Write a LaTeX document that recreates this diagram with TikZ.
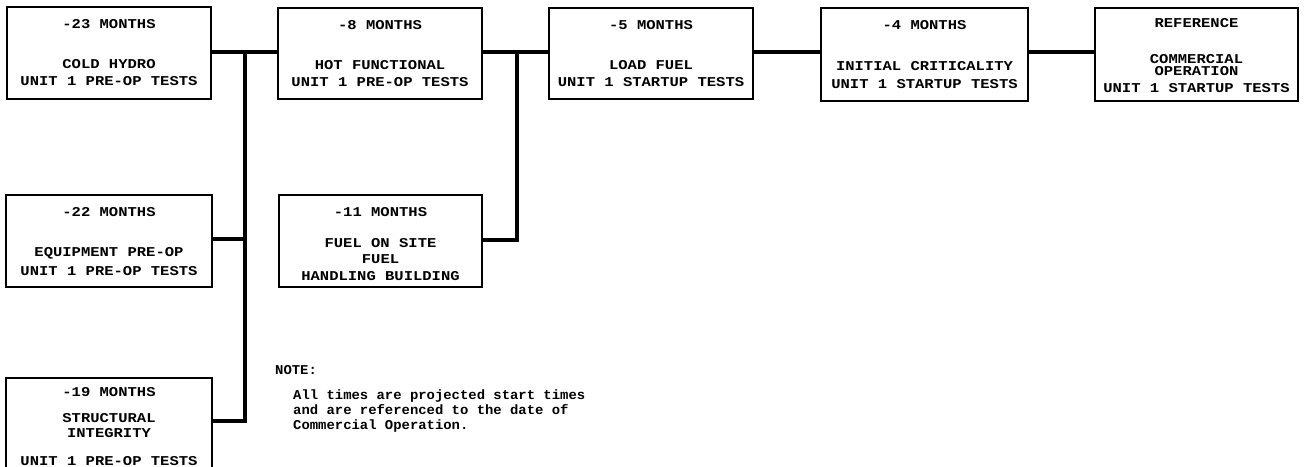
\documentclass[tikz,border=0pt]{standalone}
\usepackage{fontspec}
\newfontfamily\boxfont{Liberation Mono}[FakeStretch=1.15]
\newfontfamily\notefont{Liberation Mono}[FakeStretch=1.03]
\begin{document}
\begin{tikzpicture}[x=1pt,y=-1pt,
  stage/.style={draw, line width=2.6pt, rectangle, inner sep=0pt, align=center,
    font=\boxfont\bfseries\fontsize{13.5}{15}\selectfont},
  conn/.style={line width=3.4pt},
  notetext/.style={anchor=base west, inner sep=0pt, font=\notefont\bfseries\fontsize{13.5}{15}\selectfont}]
\useasboundingbox (0,0) rectangle (1306,466);
\fill[white] (0,0) rectangle (1306,466);
% top row
\node[stage, minimum width=204pt, minimum height=92pt] (b1) at (109,53)
  {-23 MONTHS\\[25pt]COLD HYDRO\\[2pt]UNIT 1 PRE-OP TESTS};
\node[stage, minimum width=204pt, minimum height=91pt] (b2) at (380,53.5)
  {-8 MONTHS\\[25pt]HOT FUNCTIONAL\\[2pt]UNIT 1 PRE-OP TESTS};
\node[stage, minimum width=204pt, minimum height=91pt] (b3) at (651,53.5)
  {-5 MONTHS\\[25pt]LOAD FUEL\\[2pt]UNIT 1 STARTUP TESTS};
\node[stage, minimum width=207pt, minimum height=93pt] (b4) at (924.5,54.5)
  {-4 MONTHS\\[26pt]INITIAL CRITICALITY\\[3pt]UNIT 1 STARTUP TESTS};
\node[stage, minimum width=203pt, minimum height=93pt] (b5) at (1196.5,54.5)
  {\rule{0pt}{11pt}REFERENCE\\[21pt]COMMERCIAL\\[-2.5pt]OPERATION\\[2pt]UNIT 1 STARTUP TESTS};
% lower boxes
\node[stage, minimum width=206pt, minimum height=92pt] (b6) at (109,241)
  {\rule{0pt}{11pt}-22 MONTHS\\[25pt]EQUIPMENT PRE-OP\\[4pt]UNIT 1 PRE-OP TESTS};
\node[stage, minimum width=203pt, minimum height=92pt] (b7) at (380.5,241)
  {\rule{0pt}{15.5pt}-11 MONTHS\\[16pt]FUEL ON SITE\\[1pt]FUEL\\[2pt]HANDLING BUILDING};
\node[stage, minimum width=206pt, minimum height=97pt] (b8) at (109,426.5)
  {-19 MONTHS\\[11pt]STRUCTURAL\\INTEGRITY\\[13pt]UNIT 1 PRE-OP TESTS};
% junctions
\coordinate (j1) at (245,52);
\coordinate (j6) at (245,239);
\coordinate (j8) at (245,421);
\coordinate (j2) at (517,52);
\coordinate (j7) at (517,240);
% connectors
\draw[conn] (b1.east |- j1) -- (b2.west |- j1);
\draw[conn] (j1) -- (j8) -- (b8.east |- j8);
\draw[conn] (b6.east |- j6) -- (j6);
\draw[conn] (b2.east |- j2) -- (b3.west |- j2);
\draw[conn] (j2) -- (j7) -- (b7.east |- j7);
\draw[conn] (b3.east |- j2) -- (b4.west |- j2);
\draw[conn] (b4.east |- j2) -- (b5.west |- j2);
% note
\node[notetext] (note) at (275,374) {NOTE:};
\node[notetext] (n1) at (293,399) {All times are projected start times};
\node[notetext] (n2) at (293,414) {and are referenced to the date of};
\node[notetext] (n3) at (293,429) {Commercial Operation.};
\end{tikzpicture}
\end{document}
